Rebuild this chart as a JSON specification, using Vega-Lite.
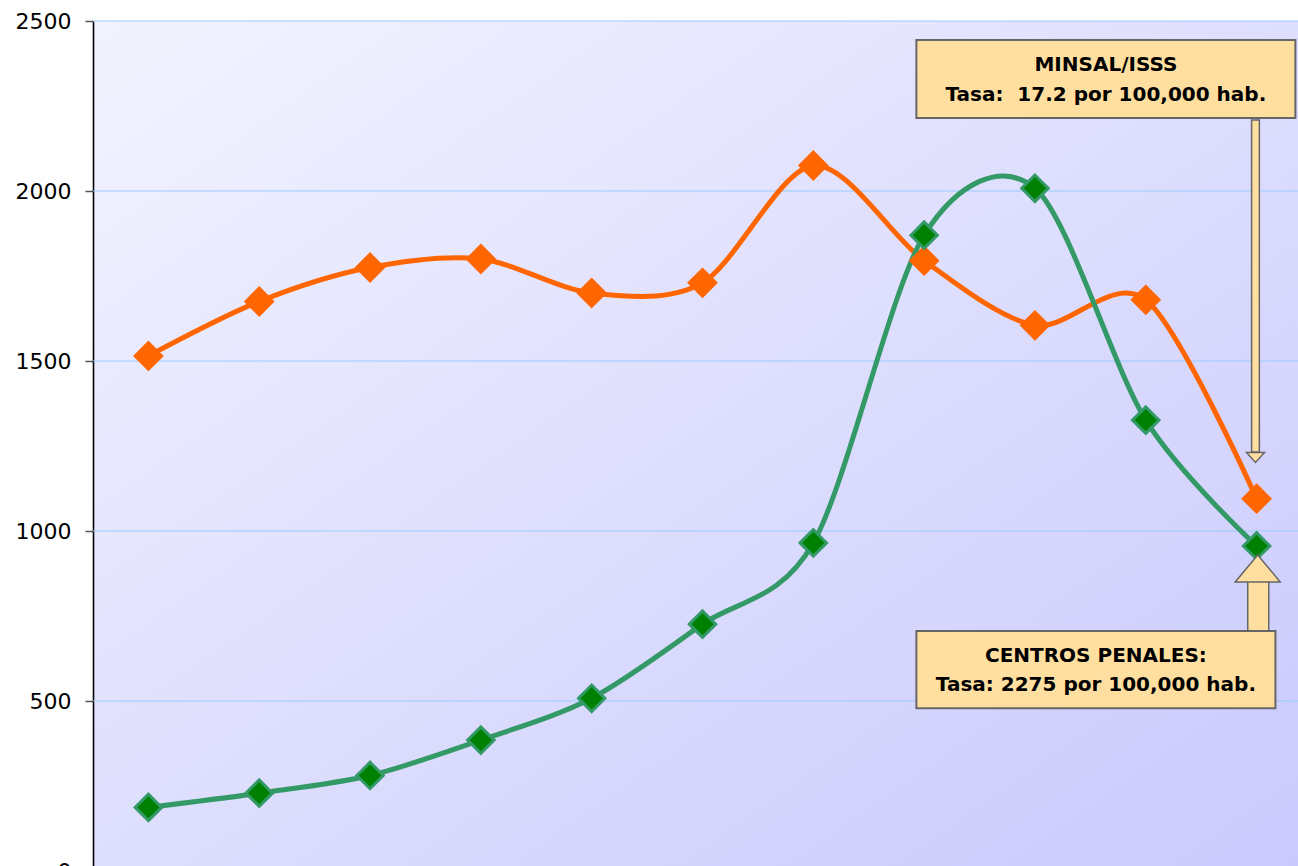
{
  "$schema": "https://vega.github.io/schema/vega-lite/v6.json",
  "width": 1219,
  "height": 850,
  "autosize": {"type": "none"},
  "padding": {"left": 93, "top": 21, "right": 0, "bottom": 0},
  "background": "white",
  "config": {
    "view": {
      "stroke": null,
      "fill": {
        "gradient": "linear",
        "x1": 0, "y1": 0, "x2": 1, "y2": 1,
        "stops": [
          {"offset": 0, "color": "#F3F3FF"},
          {"offset": 1, "color": "#C9C9FD"}
        ]
      }
    },
    "axisY": {
      "grid": false,
      "domain": true, "domainColor": "#000000", "domainWidth": 1.6,
      "ticks": true, "tickColor": "#555555", "tickSize": 8, "tickWidth": 1.5,
      "labelFont": "DejaVu Sans", "labelFontSize": 22, "labelColor": "#000000",
      "labelPadding": 14, "labelOverlap": false
    }
  },
  "datasets": {
    "grid": [
      {"nivel": 500}, {"nivel": 1000}, {"nivel": 1500}, {"nivel": 2000}, {"nivel": 2500}
    ],
    "series": [
      {"punto": 1, "serie": "MINSAL/ISSS", "valor": 1515},
      {"punto": 2, "serie": "MINSAL/ISSS", "valor": 1675},
      {"punto": 3, "serie": "MINSAL/ISSS", "valor": 1775},
      {"punto": 4, "serie": "MINSAL/ISSS", "valor": 1800},
      {"punto": 5, "serie": "MINSAL/ISSS", "valor": 1700},
      {"punto": 6, "serie": "MINSAL/ISSS", "valor": 1730},
      {"punto": 7, "serie": "MINSAL/ISSS", "valor": 2075},
      {"punto": 8, "serie": "MINSAL/ISSS", "valor": 1795},
      {"punto": 9, "serie": "MINSAL/ISSS", "valor": 1605},
      {"punto": 10, "serie": "MINSAL/ISSS", "valor": 1680},
      {"punto": 11, "serie": "MINSAL/ISSS", "valor": 1095},
      {"punto": 1, "serie": "Centros Penales", "valor": 187},
      {"punto": 2, "serie": "Centros Penales", "valor": 229},
      {"punto": 3, "serie": "Centros Penales", "valor": 281},
      {"punto": 4, "serie": "Centros Penales", "valor": 385},
      {"punto": 5, "serie": "Centros Penales", "valor": 508},
      {"punto": 6, "serie": "Centros Penales", "valor": 726},
      {"punto": 7, "serie": "Centros Penales", "valor": 965},
      {"punto": 8, "serie": "Centros Penales", "valor": 1870},
      {"punto": 9, "serie": "Centros Penales", "valor": 2008},
      {"punto": 10, "serie": "Centros Penales", "valor": 1326},
      {"punto": 11, "serie": "Centros Penales", "valor": 956}
    ],
    "boxes": [
      {"caja": "MINSAL/ISSS", "x": 7.93, "x2": 11.35, "y": 2444, "y2": 2215},
      {"caja": "CENTROS PENALES", "x": 7.93, "x2": 11.17, "y": 706, "y2": 479}
    ],
    "labels": [
      {"x": 9.64, "y": 2371, "texto": "MINSAL/ISSS"},
      {"x": 9.64, "y": 2282, "texto": "Tasa:\u00a0 17.2 por 100,000 hab."},
      {"x": 9.55, "y": 632, "texto": "CENTROS PENALES:"},
      {"x": 9.55, "y": 547, "texto": "Tasa: 2275 por 100,000 hab."}
    ],
    "shafts": [
      {"flecha": "arriba", "x": 10.955, "x2": 11.025, "y": 2209, "y2": 1232},
      {"flecha": "abajo", "x": 10.92, "x2": 11.11, "y": 703, "y2": 858}
    ],
    "heads": [
      {"flecha": "arriba", "x": 10.99, "y": 1216},
      {"flecha": "abajo", "x": 11.01, "y": 890}
    ]
  },
  "layer": [
    {
      "data": {"name": "grid"},
      "mark": {"type": "rule", "color": "#99CCFF", "strokeWidth": 1.2, "opacity": 1},
      "encoding": {
        "y": {
          "field": "nivel", "type": "quantitative", "title": null,
          "scale": {"domain": [0, 2500], "nice": false},
          "axis": {"values": [0, 500, 1000, 1500, 2000, 2500], "format": "d", "grid": false}
        }
      }
    },
    {
      "data": {"name": "series"},
      "mark": {"type": "line", "interpolate": "cardinal", "tension": 0.1, "strokeWidth": 5},
      "encoding": {
        "x": {"field": "punto", "type": "quantitative", "scale": {"domain": [0.5, 11.5], "nice": false, "zero": false}, "axis": null},
        "y": {"field": "valor", "type": "quantitative", "title": null, "scale": {"domain": [0, 2500], "nice": false}},
        "color": {
          "field": "serie", "type": "nominal", "legend": null,
          "scale": {"domain": ["MINSAL/ISSS", "Centros Penales"], "range": ["#FF6600", "#339966"]}
        },
        "order": {"field": "punto", "type": "quantitative"}
      }
    },
    {
      "data": {"name": "series"},
      "transform": [{"filter": "datum.serie === 'MINSAL/ISSS'"}],
      "mark": {"type": "point", "shape": "diamond", "filled": true, "size": 950, "color": "#FF6600", "opacity": 1},
      "encoding": {
        "x": {"field": "punto", "type": "quantitative", "scale": {"domain": [0.5, 11.5], "nice": false, "zero": false}},
        "y": {"field": "valor", "type": "quantitative", "title": null, "scale": {"domain": [0, 2500], "nice": false}}
      }
    },
    {
      "data": {"name": "series"},
      "transform": [{"filter": "datum.serie === 'Centros Penales'"}],
      "mark": {"type": "point", "shape": "diamond", "filled": true, "size": 700, "fill": "#008000", "stroke": "#339966", "strokeWidth": 3, "opacity": 1},
      "encoding": {
        "x": {"field": "punto", "type": "quantitative", "scale": {"domain": [0.5, 11.5], "nice": false, "zero": false}},
        "y": {"field": "valor", "type": "quantitative", "title": null, "scale": {"domain": [0, 2500], "nice": false}}
      }
    },
    {
      "data": {"name": "shafts"},
      "mark": {"type": "rect", "fill": "#FFDF9F", "stroke": "#666666", "strokeWidth": 1.5},
      "encoding": {
        "x": {"field": "x", "type": "quantitative", "scale": {"domain": [0.5, 11.5], "nice": false, "zero": false}},
        "x2": {"field": "x2"},
        "y": {"field": "y", "type": "quantitative", "title": null, "scale": {"domain": [0, 2500], "nice": false}},
        "y2": {"field": "y2"}
      }
    },
    {
      "data": {"name": "heads"},
      "transform": [{"filter": "datum.flecha === 'arriba'"}],
      "mark": {"type": "point", "shape": "M-1,-0.55L1,-0.55L0,0.55Z", "size": 324, "filled": true, "fill": "#FFDF9F", "stroke": "#666666", "strokeWidth": 1.5, "opacity": 1},
      "encoding": {
        "x": {"field": "x", "type": "quantitative", "scale": {"domain": [0.5, 11.5], "nice": false, "zero": false}},
        "y": {"field": "y", "type": "quantitative", "title": null, "scale": {"domain": [0, 2500], "nice": false}}
      }
    },
    {
      "data": {"name": "heads"},
      "transform": [{"filter": "datum.flecha === 'abajo'"}],
      "mark": {"type": "point", "shape": "M-1,0.6L1,0.6L0,-0.6Z", "size": 2025, "filled": true, "fill": "#FFDF9F", "stroke": "#666666", "strokeWidth": 1.5, "opacity": 1},
      "encoding": {
        "x": {"field": "x", "type": "quantitative", "scale": {"domain": [0.5, 11.5], "nice": false, "zero": false}},
        "y": {"field": "y", "type": "quantitative", "title": null, "scale": {"domain": [0, 2500], "nice": false}}
      }
    },
    {
      "data": {"name": "boxes"},
      "mark": {"type": "rect", "fill": "#FFDF9F", "stroke": "#666666", "strokeWidth": 2},
      "encoding": {
        "x": {"field": "x", "type": "quantitative", "scale": {"domain": [0.5, 11.5], "nice": false, "zero": false}},
        "x2": {"field": "x2"},
        "y": {"field": "y", "type": "quantitative", "title": null, "scale": {"domain": [0, 2500], "nice": false}},
        "y2": {"field": "y2"}
      }
    },
    {
      "data": {"name": "labels"},
      "mark": {"type": "text", "font": "DejaVu Sans", "fontWeight": "bold", "fontSize": 20, "color": "#000000", "align": "center", "baseline": "middle"},
      "encoding": {
        "x": {"field": "x", "type": "quantitative", "scale": {"domain": [0.5, 11.5], "nice": false, "zero": false}},
        "y": {"field": "y", "type": "quantitative", "title": null, "scale": {"domain": [0, 2500], "nice": false}},
        "text": {"field": "texto"}
      }
    }
  ]
}
